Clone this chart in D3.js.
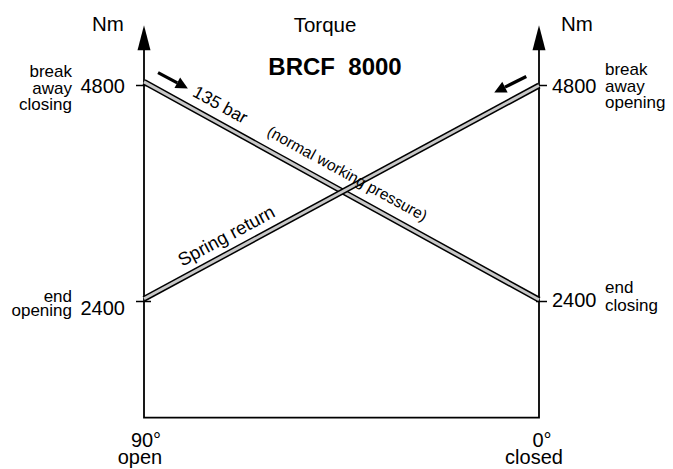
<!DOCTYPE html>
<html><head><meta charset="utf-8">
<script src="https://cdn.jsdelivr.net/npm/d3@7"></script>
<style>
html,body{margin:0;padding:0;background:#fff;}
text{font-family:"Liberation Sans",Arial,sans-serif;fill:#000;}
</style></head>
<body><div id="chart"></div>
<script>
// ---- data ----
const angles = [90, 0];                 // x positions (degrees)
const angleLabels = ["90°", "0°"];
const angleNames = ["open", "closed"];
const pressureTorque = [4840, 2420];    // 135 bar line
const springTorque = [2430, 4800];      // spring return line
const yTicks = [4800, 2400];
const leftTickNotes = [["break","away","closing"], ["end","opening"]];
const rightTickNotes = [["break","away","opening"], ["end","closing"]];
// direction arrows [x0,y0,x1,y1] in data units
const dirArrows = [[86.8, 4944, 80.0, 4767], [2.9, 4900, 10.2, 4722]];

const W = 673, H = 469;
const svg = d3.select("#chart").append("svg").attr("width", W).attr("height", H);

const x = d3.scaleLinear().domain([90, 0]).range([144, 539]);
const y = d3.scaleLinear().domain([2400, 4800]).range([301.5, 85.5]);
const yBottom = 1110, yTop = 5470;

// axes
const axisG = svg.append("g").attr("stroke","#000").attr("stroke-width",1.8).attr("fill","none");
axisG.append("path").attr("d", d3.line()([[x(90), y(yTop)+22],[x(90), y(yBottom)],[x(0), y(yBottom)],[x(0), y(yTop)+22]]));
angles.forEach(a => {
  svg.append("path").attr("fill","#000")
    .attr("d", `M${x(a)},${y(yTop)} L${x(a)-6.5},${y(yTop)+25} L${x(a)+6.5},${y(yTop)+25} Z`);
});
// ticks
yTicks.forEach(v => {
  svg.append("line").attr("x1",x(90)-8).attr("x2",x(90)+7).attr("y1",y(v)).attr("y2",y(v)).attr("stroke","#000").attr("stroke-width",1.5);
  svg.append("line").attr("x1",x(0)-3).attr("x2",x(0)+8).attr("y1",y(v)).attr("y2",y(v)).attr("stroke","#000").attr("stroke-width",1.5);
});

// lines (double stroke style)
const line = d3.line().x(d => x(d[0])).y(d => y(d[1]));
[pressureTorque, springTorque].forEach(series => {
  const pts = angles.map((a,i) => [a, series[i]]);
  svg.append("path").attr("d", line(pts)).attr("stroke","#000").attr("stroke-width",6).attr("fill","none");
  svg.append("path").attr("d", line(pts)).attr("stroke","#c8c8c8").attr("stroke-width",3).attr("fill","none");
});

// direction arrows
dirArrows.forEach(a => {
  const x0=x(a[0]), y0=y(a[1]), x1=x(a[2]), y1=y(a[3]);
  const ang = Math.atan2(y1-y0, x1-x0);
  const hx = x1 - 12*Math.cos(ang), hy = y1 - 12*Math.sin(ang);
  svg.append("line").attr("x1",x0).attr("y1",y0).attr("x2",hx).attr("y2",hy).attr("stroke","#000").attr("stroke-width",3.2);
  const px = -Math.sin(ang), py = Math.cos(ang);
  svg.append("path").attr("fill","#000")
    .attr("d", `M${x1},${y1} L${hx+6*px},${hy+6*py} L${hx-6*px},${hy-6*py} Z`);
});

// rotated line labels
function lineLabel(series, atAngle, offset, txt, size) {
  const x0 = x(angles[0]), y0 = y(series[0]), x1 = x(angles[1]), y1 = y(series[1]);
  const ang = Math.atan2(y1-y0, x1-x0);
  const t = (x(atAngle)-x0)/(x1-x0);
  const lx = x0 + t*(x1-x0), ly = y0 + t*(y1-y0);
  svg.append("text").attr("transform", `translate(${lx},${ly}) rotate(${ang*180/Math.PI})`)
    .attr("y", -offset).attr("font-size", size).text(txt);
}
lineLabel(pressureTorque, 80.4, 11, "135 bar", 17.5);
lineLabel(pressureTorque, 63.6, 12.5, "(normal working pressure)", 15.5);
lineLabel(springTorque, 80.2, 10, "Spring return", 18.5);

// titles
svg.append("text").attr("x",108).attr("y",31).attr("text-anchor","middle").attr("font-size",20.5).text("Nm");
svg.append("text").attr("x",577).attr("y",31).attr("text-anchor","middle").attr("font-size",20.5).text("Nm");
svg.append("text").attr("x",325).attr("y",32).attr("text-anchor","middle").attr("font-size",20.5).text("Torque");
svg.append("text").attr("x",335).attr("y",75).attr("text-anchor","middle").attr("font-size",24).attr("font-weight","bold")
  .attr("xml:space","preserve").style("white-space","pre").text("BRCF  8000");

// tick value labels
const numOffL = [7, 13], numOffR = [7.5, 5.5];
yTicks.forEach((v,i) => {
  svg.append("text").attr("x",125).attr("y",y(v)+numOffL[i]).attr("text-anchor","end").attr("font-size",20).text(v);
  svg.append("text").attr("x",552).attr("y",y(v)+numOffR[i]).attr("font-size",20).text(v);
});
// notes (multi-line, one text element each)
function multiLine(xp, y0, lines, offs, anchor, size) {
  const t = svg.append("text").attr("x", xp).attr("y", y0 + offs[0]).attr("text-anchor", anchor).attr("font-size", size);
  lines.forEach((s,j) => {
    t.append("tspan").attr("x", xp).attr("dy", j === 0 ? 0 : offs[j]-offs[j-1]).text(s);
  });
}
const noteOffL = [[-9,8,24],[0.5,14.5]], noteOffR = [[-11,6,22],[-8.5,9.5]];
leftTickNotes.forEach((arr,i) => multiLine(72, y(yTicks[i]), arr, noteOffL[i], "end", 17));
rightTickNotes.forEach((arr,i) => multiLine(605, y(yTicks[i]), arr, noteOffR[i], "start", 17));

// bottom labels
const degDx = [2, 3], nameDx = [-4, -5];
angles.forEach((a,i) => {
  const t = svg.append("text").attr("y",447).attr("text-anchor","middle").attr("font-size",20);
  t.append("tspan").attr("x", x(a)+degDx[i]).text(angleLabels[i]);
  t.append("tspan").attr("x", x(a)+nameDx[i]).attr("dy",17).text(angleNames[i]);
});
</script></body></html>
